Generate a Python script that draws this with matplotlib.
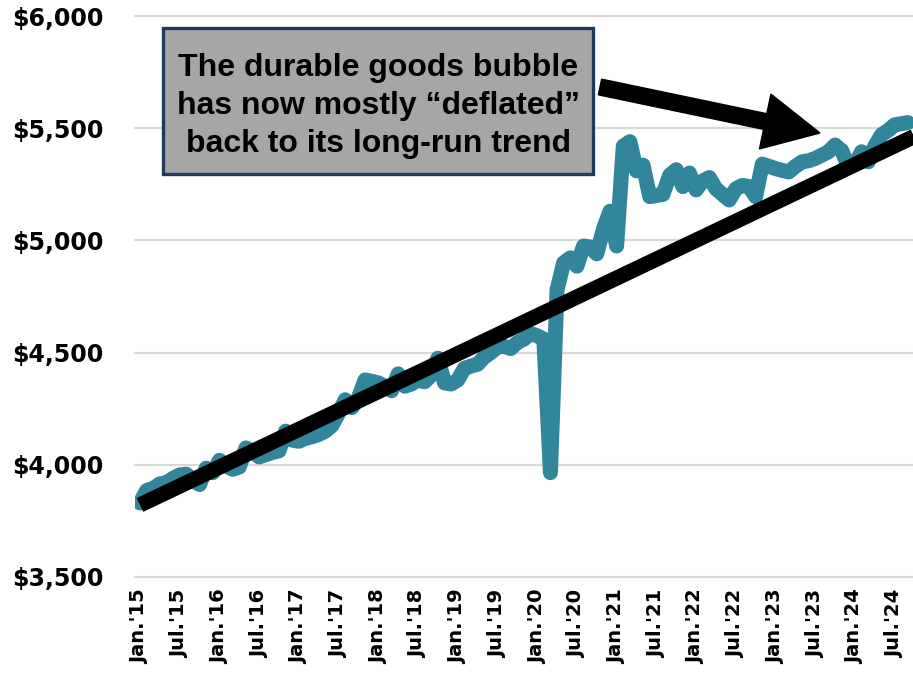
import matplotlib
matplotlib.use("Agg")
import matplotlib.pyplot as plt
import matplotlib.patches as mpatches
import matplotlib.transforms as mtransforms
import numpy as np

# ---------------- data ----------------
values = [
    3830, 3885, 3895, 3915, 3920, 3940, 3955, 3958, 3930, 3912, 3985, 3965,   # 2015
    4020, 3995, 3980, 3990, 4075, 4060, 4035, 4045, 4055, 4062, 4150, 4110,   # 2016
    4105, 4118, 4125, 4135, 4150, 4175, 4230, 4290, 4255, 4300, 4378, 4372,   # 2017
    4365, 4350, 4330, 4405, 4350, 4360, 4378, 4370, 4400, 4475, 4365, 4360,   # 2018
    4378, 4430, 4440, 4448, 4480, 4500, 4525, 4528, 4518, 4545, 4560, 4585,   # 2019
    4575, 4560, 3965, 4780, 4900, 4922, 4885, 4975, 4970, 4940, 5050, 5130,   # 2020
    4975, 5420, 5440, 5310, 5335, 5195, 5200, 5205, 5290, 5315, 5240, 5300,   # 2021
    5225, 5265, 5280, 5230, 5205, 5180, 5230, 5245, 5240, 5195, 5340, 5330,   # 2022
    5320, 5312, 5305, 5330, 5350, 5355, 5365, 5380, 5395, 5425, 5400, 5330,   # 2023
    5340, 5395, 5350, 5420, 5470, 5490, 5515, 5520, 5525,                     # 2024
]
trend_x = [0, 117]
trend_values = [3821, 5464]

x_tick_labels = ["Jan.'15", "Jul.'15", "Jan.'16", "Jul.'16", "Jan.'17", "Jul.'17",
                 "Jan.'18", "Jul.'18", "Jan.'19", "Jul.'19", "Jan.'20", "Jul.'20",
                 "Jan.'21", "Jul.'21", "Jan.'22", "Jul.'22", "Jan.'23", "Jul.'23",
                 "Jan.'24", "Jul.'24"]
y_ticks = [3500, 4000, 4500, 5000, 5500, 6000]
y_tick_labels = ["$3,500", "$4,000", "$4,500", "$5,000", "$5,500", "$6,000"]

note = "The durable goods bubble\nhas now mostly \u201cdeflated\u201d\nback to its long-run trend"

# ---------------- figure ----------------
W, H = 913, 675
fig = plt.figure(figsize=(W / 100, H / 100), dpi=100)
ax = fig.add_axes([135 / W, 98 / H, 778 / W, 561 / H])

x = np.arange(len(values))
ax.plot(x, values, color="#31869B", lw=10.8, solid_capstyle="round",
        solid_joinstyle="round", zorder=3)
ax.plot(trend_x, trend_values, color="black", lw=11, solid_capstyle="butt", zorder=4)

ax.set_xlim(-0.755, 116.77)
ax.set_ylim(3500, 6000)

ax.set_yticks(y_ticks)
ax.set_yticklabels(y_tick_labels, fontsize=17, fontweight="bold")
ax.set_xticks(np.arange(0, 6 * len(x_tick_labels), 6))
ax.set_xticklabels(x_tick_labels, rotation=90, fontsize=14, fontweight="bold")
ax.tick_params(axis="y", length=0, pad=23)
ax.tick_params(axis="x", length=0, pad=9)

for s in ax.spines.values():
    s.set_visible(False)
ax.yaxis.grid(True, color="#D9D9D9", lw=1.6)
ax.xaxis.grid(False)
ax.set_axisbelow(True)
for gl in ax.yaxis.get_gridlines():
    gl.set_clip_on(False)

# annotation box
box = mpatches.Rectangle((163 / W, (H - 174) / H), 430 / W, 146 / H,
                         transform=fig.transFigure, facecolor="#A6A6A6",
                         edgecolor="#1F3A5A", lw=2.4, zorder=10)
fig.add_artist(box)
fig.text(378 / W, (H - 106) / H, note, ha="center", va="center",
         fontsize=23, fontweight="bold", family="Liberation Sans",
         linespacing=1.34, zorder=11)

# arrow (pixel coordinates)
arrow = mpatches.FancyArrow(600, H - 87, 220, -46, width=16, head_width=56,
                            head_length=56, length_includes_head=True,
                            color="black", transform=mtransforms.IdentityTransform(),
                            zorder=12)
fig.add_artist(arrow)

fig.savefig("out.png", dpi=100)
